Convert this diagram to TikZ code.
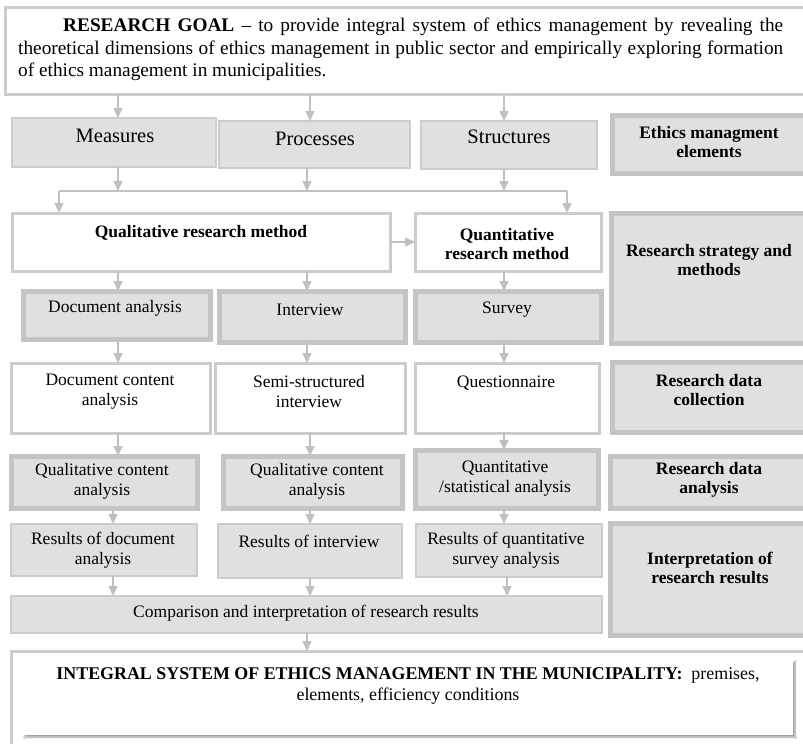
\documentclass[tikz,border=0pt]{standalone}
\usepackage{fontspec}
\setmainfont{Liberation Serif}
\usetikzlibrary{arrows.meta,shadows.blur}
\definecolor{bfill}{RGB}{224,224,224}
\definecolor{bedge}{RGB}{204,204,204}
\definecolor{tedge}{RGB}{196,196,196}
\definecolor{agray}{RGB}{192,192,192}
\tikzset{
 base/.style={rectangle, inner sep=0pt, outer sep=0pt, anchor=north west},
 thinbox/.style={base, draw=bedge, fill=bfill, line width=1.5pt},
 thickbox/.style={base, draw=tedge, fill=bfill, line width=5pt},
 whitebox/.style={base, draw=bedge, fill=white, line width=3pt},
 lbl/.style={inner sep=0pt, align=center, font=\fontsize{17.5}{20}\selectfont},
 blbl/.style={inner sep=0pt, align=center, font=\fontsize{17.5}{19}\selectfont\bfseries},
 biglbl/.style={inner sep=0pt, align=center, font=\fontsize{20.5}{24}\selectfont},
 arr/.style={draw=agray, line width=1.6pt, -{Triangle[width=9pt,length=10pt]}, agray},
 conn/.style={draw=agray, line width=1.6pt},
}
\newcommand\bx[6]{\node[#1, minimum width=#4-#2, minimum height=#5-#3] (#6) at (#2,#3) {};}
\begin{document}
\begin{tikzpicture}[x=1pt,y=-1pt]
\useasboundingbox (0,0) rectangle (803,744);
% goal
\bx{whitebox}{5}{7}{809}{94}{goal}
\node[anchor=north west, inner sep=0pt, font=\fontsize{19.3}{22.5}\selectfont] (goalT) at (18,18)
 {\parbox{765pt}{\hspace*{45pt}\makebox[720pt][s]{\textbf{RESEARCH GOAL} -- to provide integral system of ethics management by revealing the}\\
 \makebox[765pt][s]{theoretical dimensions of ethics management in public sector and empirically exploring formation}\\
 of ethics management in municipalities.}};
% elements row
\bx{thinbox}{12}{118}{216}{167}{meas}
\bx{thinbox}{219}{121}{410}{168}{proc}
\bx{thinbox}{421}{121}{597}{169}{struc}
\bx{thickbox}{612}{115}{810}{173}{elem}
\node[biglbl] (measT) at (115,136) {Measures};
\node[biglbl] (procT) at (315,139) {Processes};
\node[biglbl] (strucT) at (509,137) {Structures};
\node[blbl] (elemT) at (709,142) {Ethics managment\\elements};
% methods row
\bx{whitebox}{12}{213}{390}{271}{qual}
\bx{whitebox}{415}{213}{601}{271}{quant}
\bx{thickbox}{611}{213}{810}{343}{strat}
\node[blbl] (qualT) at (201,233) {Qualitative research method};
\node[blbl] (quantT) at (507,244) {Quantitative\\research method};
\node[blbl] (stratT) at (709,260) {Research strategy and\\methods};
% instruments row
\bx{thickbox}{23}{291}{210}{339}{docan}
\bx{thickbox}{219}{291}{405}{342}{interv}
\bx{thickbox}{415}{291}{601}{342}{survey}
\node[lbl] (docanT) at (115,308) {Document analysis};
\node[lbl] (intervT) at (310,310) {Interview};
\node[lbl] (surveyT) at (507,310) {Survey};
% collection row
\bx{whitebox}{11}{363}{210}{433}{dca}
\bx{whitebox}{215}{363}{405}{433}{semi}
\bx{whitebox}{415}{363}{599}{433}{quest}
\bx{thickbox}{612}{362}{810}{432}{coll}
\node[lbl] (dcaT) at (110,392) {Document content\\analysis};
\node[lbl] (semiT) at (309,392) {Semi-structured\\interview};
\node[lbl] (questT) at (506,383) {Questionnaire};
\node[blbl] (collT) at (709,390) {Research data\\collection};
% analysis row
\bx{thickbox}{11}{456}{197}{508}{qca}
\bx{thickbox}{223}{456}{402}{508}{qcb}
\bx{thickbox}{415}{450}{598}{508}{qstat}
\bx{thickbox}{610}{456}{810}{508}{anal}
\node[lbl] (qcaT) at (102,481) {Qualitative content\\analysis};
\node[lbl] (qcbT) at (317,481) {Qualitative content\\analysis};
\node[lbl] (qstatT) at (505,479) {Quantitative\\/statistical analysis};
\node[blbl] (analT) at (709,480) {Research data\\analysis};
% results row
\bx{thinbox}{11}{524}{197}{576}{resa}
\bx{thinbox}{218}{524}{402}{578}{resb}
\bx{thinbox}{416}{524}{602}{577}{resc}
\bx{thickbox}{610}{523}{810}{635}{interp}
\node[lbl] (resaT) at (103,550) {Results of document\\analysis};
\node[lbl] (resbT) at (309,541) {Results of interview};
\node[lbl] (rescT) at (506,550) {Results of quantitative\\survey analysis};
\node[blbl] (interpT) at (710,568) {Interpretation of\\research results};
% comparison
\bx{thinbox}{11}{596}{602}{633}{comp}
\node[lbl] (compT) at (306,613) {Comparison and interpretation of research results};
% integral
\bx{whitebox}{11}{651}{810}{746}{integ}
\node[base, fill=white, minimum width=770, minimum height=75,
  blur shadow={shadow xshift=2pt, shadow yshift=-2pt, shadow blur steps=6, shadow opacity=40}] (integin) at (23,660) {};
\node[inner sep=0pt, align=center, font=\fontsize{17.9}{21}\selectfont] (integT) at (408,686)
 {\textbf{INTEGRAL SYSTEM OF ETHICS MANAGEMENT IN THE MUNICIPALITY:}\ \ premises,\\ elements, efficiency conditions};
% connectors
\draw[arr] (goal.south -| 118,0) -- (meas.north -| 118,0);
\draw[arr] (goal.south -| 310,0) -- (proc.north -| 310,0);
\draw[arr] (goal.south -| 504,0) -- (struc.north -| 504,0);
\coordinate (jl) at (59,191);
\coordinate (jr) at (567,191);
\draw[arr] (meas.south -| 118,0) -- (118,0 |- jl);
\draw[arr] (proc.south -| 307,0) -- (307,0 |- jl);
\draw[arr] (struc.south -| 504,0) -- (504,0 |- jl);
\draw[conn] (jl) -- (jr);
\draw[arr] (jl) -- (qual.north -| jl);
\draw[arr] (jr) -- (quant.north -| jr);
\draw[arr] (qual.east |- 0,242) -- (quant.west |- 0,242);
\draw[arr] (qual.south -| 118,0) -- (docan.north -| 118,0);
\draw[arr] (qual.south -| 307,0) -- (interv.north -| 307,0);
\draw[arr] (quant.south -| 504,0) -- (survey.north -| 504,0);
\draw[arr] (docan.south -| 118,0) -- (dca.north -| 118,0);
\draw[arr] (interv.south -| 307,0) -- (semi.north -| 307,0);
\draw[arr] (survey.south -| 504,0) -- (quest.north -| 504,0);
\draw[arr] (dca.south -| 118,0) -- (qca.north -| 118,0);
\draw[arr] (semi.south -| 310,0) -- (qcb.north -| 310,0);
\draw[arr] (quest.south -| 504,0) -- (qstat.north -| 504,0);
\draw[arr] (qca.south -| 113,0) -- (resa.north -| 113,0);
\draw[arr] (qcb.south -| 310,0) -- (resb.north -| 310,0);
\draw[arr] (qstat.south -| 504,0) -- (resc.north -| 504,0);
\draw[arr] (resa.south -| 113,0) -- (comp.north -| 113,0);
\draw[arr] (resb.south -| 310,0) -- (comp.north -| 310,0);
\draw[arr] (resc.south -| 507,0) -- (comp.north -| 507,0);
\draw[arr] (comp.south -| 307,0) -- (integ.north -| 307,0);
\end{tikzpicture}
\end{document}
